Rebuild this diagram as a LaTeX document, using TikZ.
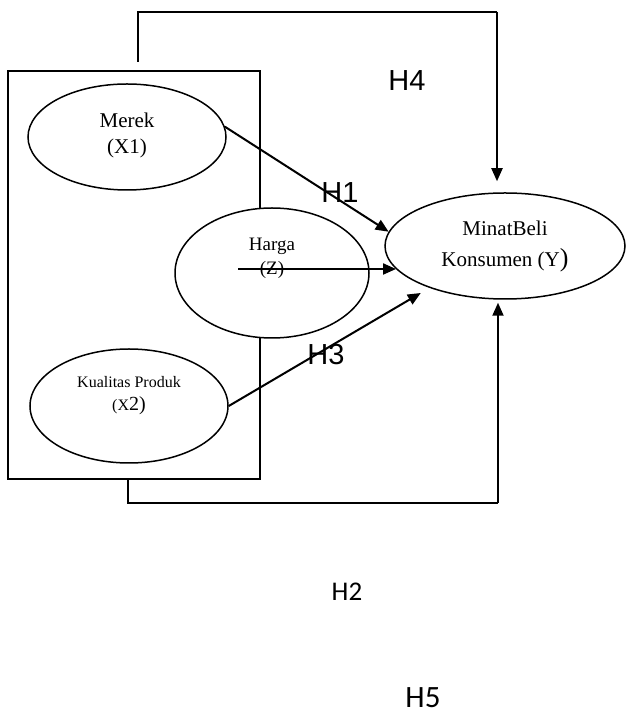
\documentclass[tikz,border=0pt]{standalone}
\usepackage{fontspec}
\setmainfont{Liberation Serif}
\newfontfamily\arialfont{Liberation Sans}
\newfontfamily\calibrifont{Carlito}
\usetikzlibrary{arrows.meta,shapes.geometric}

\begin{document}
\begin{tikzpicture}[x=1pt,y=1pt,
  var/.style={draw,ellipse,fill=white,line width=1.5pt,inner sep=0pt},
  varlabel/.style={align=center,inner sep=0pt},
  arrow/.style={-{Triangle[length=13pt,width=11pt]},line width=2pt},
  link/.style={line width=1.1pt},
  hyp/.style={font=\arialfont\fontsize{29}{29}\selectfont},
  hypc/.style={font=\calibrifont\fontsize{27}{27}\selectfont}
]
  \useasboundingbox (0,0) rectangle (625,715);
  % independent variables box
  \draw[line width=1.3pt] (8,236) rectangle (260,644);

  \node[var,minimum width=198pt,minimum height=106pt,
        label={[varlabel,font=\fontsize{21}{26}\selectfont,yshift=2pt]center:Merek\\(X1)}] (merek) at (127,578) {};
  \node[var,minimum width=194pt,minimum height=130pt,
        label={[varlabel,font=\fontsize{19}{24}\selectfont,yshift=15pt]center:Harga\\(Z)}] (harga) at (272,442) {};
  \node[var,minimum width=240pt,minimum height=106pt,
        label={[varlabel,font=\fontsize{21}{31}\selectfont]center:MinatBeli\\Konsumen (Y{\fontsize{26}{26}\selectfont)}}] (minat) at (505,469) {};
  \node[var,minimum width=198pt,minimum height=114pt,
        label={[varlabel,font=\fontsize{16}{23}\selectfont,yshift=10pt]center:Kualitas Produk\\(X{\fontsize{20}{20}\selectfont2)}}] (kualitas) at (129,309) {};

  % direct paths
  \draw[arrow] (merek.6) -- (minat.173);
  \coordinate (zstart) at (238,446);
  \draw[arrow] (zstart) -- (zstart -| minat.192);
  \draw[arrow,shorten >=10pt] (kualitas.0) -- (minat.209);

  % paths round the box
  \coordinate (h4a) at (138,653);
  \coordinate (h4b) at (497,703);
  \draw[link] (h4a) |- (h4b);
  \draw[arrow] (h4b) -- ([xshift=-8pt,yshift=11pt]minat.north);
  \coordinate (h2a) at (128,236);
  \coordinate (h2b) at (498,212);
  \draw[link] (h2a) |- (h2b);
  \draw[arrow] (h2b) -- ([xshift=-7pt,yshift=-3pt]minat.south);

  \node[hyp] (h4) at (407,634) {H4};
  \node[hyp] (h1) at (340,522) {H1};
  \node[hyp] (h3) at (326,360) {H3};
  \node[hypc] (h2) at (347,123) {H2};
  \node[hypc,font=\calibrifont\fontsize{31}{31}\selectfont] (h5) at (423,17) {H5};
\end{tikzpicture}
\end{document}
